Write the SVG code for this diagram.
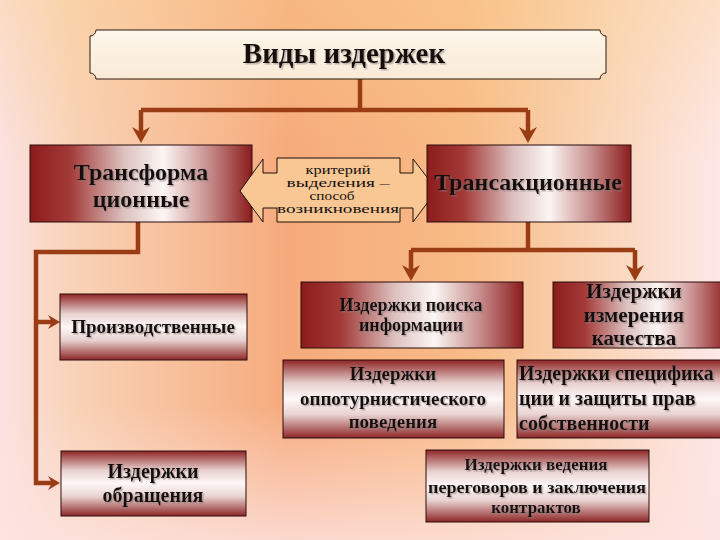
<svg xmlns="http://www.w3.org/2000/svg" width="720" height="540" viewBox="0 0 720 540">
  <defs>
    <linearGradient id="bgH" x1="0" y1="0" x2="1" y2="0">
      <stop offset="0" stop-color="#fbe2e2"/>
      <stop offset="0.1" stop-color="#f9d3b8"/>
      <stop offset="0.4" stop-color="#f6aa7c"/>
      <stop offset="0.65" stop-color="#f8bb86"/>
      <stop offset="0.85" stop-color="#fad7bd"/>
      <stop offset="1" stop-color="#fde8e8"/>
    </linearGradient>
    <linearGradient id="bgV" x1="0" y1="0" x2="0" y2="1">
      <stop offset="0" stop-color="#fbd08c" stop-opacity="0.35"/>
      <stop offset="0.3" stop-color="#fbd08c" stop-opacity="0"/>
      <stop offset="0.75" stop-color="#fde4e2" stop-opacity="0"/>
      <stop offset="1" stop-color="#fde4e2" stop-opacity="0.8"/>
    </linearGradient>
    <linearGradient id="gH" x1="0" y1="0" x2="1" y2="0">
      <stop offset="0" stop-color="#8c1c1c"/>
      <stop offset="0.18" stop-color="#a23a38"/>
      <stop offset="0.42" stop-color="#dcc0be"/>
      <stop offset="0.6" stop-color="#fbf6f4"/>
      <stop offset="0.8" stop-color="#c99090"/>
      <stop offset="1" stop-color="#8c1c1c"/>
    </linearGradient>
    <linearGradient id="gV" x1="0" y1="0" x2="0" y2="1">
      <stop offset="0" stop-color="#8e2626"/>
      <stop offset="0.3" stop-color="#e8d2d0"/>
      <stop offset="0.5" stop-color="#fdf8f6"/>
      <stop offset="0.7" stop-color="#e8d2d0"/>
      <stop offset="1" stop-color="#8e2626"/>
    </linearGradient>
    <linearGradient id="gTitle" x1="0" y1="0" x2="0" y2="1">
      <stop offset="0" stop-color="#fdf6ea"/>
      <stop offset="1" stop-color="#f9ead6"/>
    </linearGradient>
    <filter id="sh" x="-5%" y="-20%" width="110%" height="140%">
      <feDropShadow dx="1.5" dy="1.5" stdDeviation="0.4" flood-color="#8a7a7a" flood-opacity="0.55"/>
    </filter>
    <marker id="arr" viewBox="0 0 16 18" refX="8" refY="9" markerWidth="16" markerHeight="18" markerUnits="userSpaceOnUse" orient="auto">
      <path d="M0,0 L16,9 L0,18 L5,9 Z" fill="#9a3c14"/>
    </marker>
    <marker id="arrS" viewBox="0 0 12 14" refX="6" refY="7" markerWidth="12" markerHeight="14" markerUnits="userSpaceOnUse" orient="auto">
      <path d="M0,0 L12,7 L0,14 L4,7 Z" fill="#9a3c14"/>
    </marker>
  </defs>
  <style>
    .box { stroke: #2a0c0c; stroke-width: 1; }
    .h { fill: url(#gH); }
    .v { fill: url(#gV); }
    .t { font-family: "Liberation Serif", "Times New Roman", serif; fill: #141010; font-weight: bold; text-anchor: middle; filter: url(#sh); }
    .l { text-anchor: start; }
    .c { font-family: "Liberation Serif", "Times New Roman", serif; fill: #141010; font-weight: normal; font-size: 12px; text-anchor: middle; }
    .conn { fill: none; stroke: #9a3c14; stroke-width: 4.5; }
  </style>

  <rect x="0" y="0" width="720" height="540" fill="url(#bgH)"/>
  <rect x="0" y="0" width="720" height="540" fill="url(#bgV)"/>

  <g id="connectors">
    <path class="conn" d="M360,79 V110"/>
    <path class="conn" d="M141,110 H528"/>
    <path class="conn" d="M141,110 V135" marker-end="url(#arr)"/>
    <path class="conn" d="M528,110 V135" marker-end="url(#arr)"/>
    <path class="conn" d="M138,222 V252 H36 V483 H54" marker-end="url(#arrS)"/>
    <path class="conn" d="M36,322 H54" marker-end="url(#arrS)"/>
    <path class="conn" d="M528,222 V250"/>
    <path class="conn" d="M411,250 H635"/>
    <path class="conn" d="M411,250 V273" marker-end="url(#arr)"/>
    <path class="conn" d="M635,250 V273" marker-end="url(#arr)"/>
  </g>

  <g id="title">
    <path d="M96,30 H600 A6,6 0 0 0 606,36 V73 A6,6 0 0 0 600,79 H96 A6,6 0 0 0 90,73 V36 A6,6 0 0 0 96,30 Z" fill="url(#gTitle)" stroke="#2a1a10" stroke-width="1"/>
    <text class="t" x="344" y="63" font-size="29">Виды издержек</text>
  </g>

  <g id="transform">
    <rect class="box h" x="30" y="145" width="222" height="77"/>
    <text class="t" x="141" y="180" font-size="24">Трансформа</text>
    <text class="t" x="141" y="207" font-size="24">ционные</text>
  </g>

  <g id="criteria">
    <path d="M277,158 H400 V173 H413 V159 L437,190 L413,222 V208 H400 V222 H277 V208 H263 V222 L240,191 L263,159 V173 H277 Z" fill="#f9c794" stroke="#1e1008" stroke-width="1"/>
    <text class="c" x="338" y="174" textLength="65" lengthAdjust="spacingAndGlyphs">критерий</text>
    <text class="c" x="338" y="187" textLength="103" lengthAdjust="spacingAndGlyphs">выделения –</text>
    <text class="c" x="332" y="200" textLength="45" lengthAdjust="spacingAndGlyphs">способ</text>
    <text class="c" x="338" y="213" textLength="122" lengthAdjust="spacingAndGlyphs">возникновения</text>
  </g>

  <g id="transact">
    <rect class="box h" x="427" y="145" width="204" height="77"/>
    <text class="t" x="528" y="190" font-size="24">Трансакционные</text>
  </g>

  <g id="production">
    <rect class="box v" x="60" y="294" width="187" height="66"/>
    <text class="t" x="153" y="333" font-size="19">Производственные</text>
  </g>

  <g id="search">
    <rect class="box h" x="301" y="282" width="222" height="66"/>
    <text class="t" x="411" y="311" font-size="18">Издержки поиска</text>
    <text class="t" x="411" y="331" font-size="18">информации</text>
  </g>

  <g id="measure">
    <rect class="box h" x="553" y="282" width="175" height="66"/>
    <text class="t" x="634" y="298" font-size="21">Издержки</text>
    <text class="t" x="634" y="322" font-size="21">измерения</text>
    <text class="t" x="634" y="345" font-size="21">качества</text>
  </g>

  <g id="opportunism">
    <rect class="box v" x="283" y="360" width="221" height="78"/>
    <text class="t" x="393" y="380" font-size="19">Издержки</text>
    <text class="t" x="393" y="405" font-size="19">оппотурнистического</text>
    <text class="t" x="393" y="428" font-size="19">поведения</text>
  </g>

  <g id="specification">
    <rect class="box v" x="517" y="360" width="210" height="78"/>
    <text class="t l" x="519" y="380" font-size="20">Издержки специфика</text>
    <text class="t l" x="519" y="405" font-size="20">ции и защиты прав</text>
    <text class="t l" x="519" y="430" font-size="20">собственности</text>
  </g>

  <g id="circulation">
    <rect class="box v" x="61" y="451" width="185" height="65"/>
    <text class="t" x="153" y="478" font-size="20">Издержки</text>
    <text class="t" x="153" y="502" font-size="20">обращения</text>
  </g>

  <g id="negotiation">
    <rect class="box v" x="426" y="450" width="223" height="72"/>
    <text class="t" x="536" y="470" font-size="17">Издержки ведения</text>
    <text class="t" x="537" y="493" font-size="17" textLength="218" lengthAdjust="spacingAndGlyphs">переговоров и заключения</text>
    <text class="t" x="536" y="513" font-size="17">контрактов</text>
  </g>
</svg>
